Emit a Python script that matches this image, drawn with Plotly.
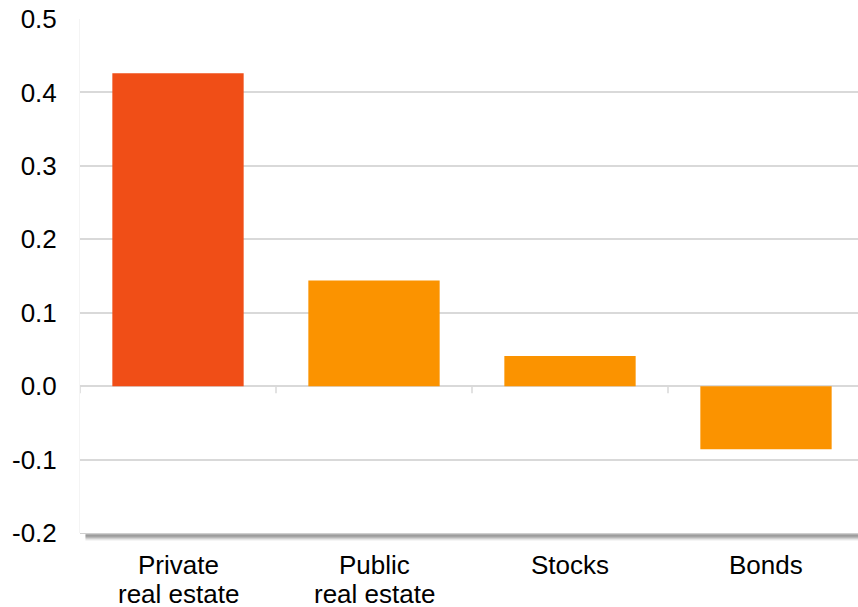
import plotly.graph_objects as go

categories = ["Private<br>real estate", "Public<br>real estate", "Stocks", "Bonds"]
values = [0.426, 0.144, 0.041, -0.086]
colors = ["#F04E17", "#FB9300", "#FB9300", "#FB9300"]
y_ticks = [-0.2, -0.1, 0.0, 0.1, 0.2, 0.3, 0.4, 0.5]
y_labels = ["-0.2", "-0.1", "0.0", "0.1", "0.2", "0.3", "0.4", "0.5"]

fig = go.Figure()
fig.add_trace(go.Bar(
    x=list(range(len(categories))), y=values, marker_color=colors,
    marker_line_width=0, width=0.67, showlegend=False, hoverinfo="skip"))

n = len(categories)
shapes = []
# zero line with category-boundary ticks
shapes.append(dict(type="line", xref="paper", x0=0, x1=1, yref="y", y0=0, y1=0,
                   line=dict(color="#d9d9d9", width=1.5), layer="below"))
for i in range(n):
    shapes.append(dict(type="line", xref="x", x0=i - 0.5, x1=i - 0.5, yref="y",
                       ysizemode="pixel", yanchor=0, y0=0, y1=-7,
                       line=dict(color="#d9d9d9", width=1.5)))
# bottom axis with shadow
shadow = ["#cfcfcf", "#b0b0b0", "#9c9c9c", "#a4a4a4", "#b8b8b8", "#d0d0d0", "#e6e6e6", "#f5f5f5"]
for k, c in enumerate(shadow):
    shapes.append(dict(type="line", xref="paper", x0=0.007 if k > 0 else 0, x1=1,
                       yref="paper", ysizemode="pixel", yanchor=0,
                       y0=-k - 0.5, y1=-k - 0.5, line=dict(color=c, width=1)))

# category labels (tight line spacing like the reference)
annotations = []
for i, cat in enumerate(categories):
    for j, line in enumerate(cat.split("<br>")):
        annotations.append(dict(x=i, xref="x", y=0, yref="paper", text=line,
                                showarrow=False, xanchor="center", yanchor="middle",
                                yshift=-32 - 29 * j,
                                font=dict(family="Liberation Sans, Arial, sans-serif",
                                          size=26, color="#000000")))

fig.update_layout(
    width=858, height=607,
    margin=dict(l=80, r=0, t=19, b=74),
    paper_bgcolor="white", plot_bgcolor="white",
    font=dict(family="Liberation Sans, Arial, sans-serif", size=26, color="#000000"),
    bargap=0.33,
    shapes=shapes,
    annotations=annotations,
    xaxis=dict(tickvals=list(range(n)), showticklabels=False,
               range=[-0.5, n - 0.5 - 6 / 196], showgrid=False, zeroline=False,
               showline=False, ticks="", automargin=False, fixedrange=True),
    yaxis=dict(range=[-0.2, 0.5], tickvals=y_ticks, ticktext=y_labels,
               showgrid=True, gridcolor="#d9d9d9", gridwidth=1.5, zeroline=False,
               showline=True, linecolor="#f4f4f4", linewidth=1,
               ticks="outside", ticklen=0, ticklabelstandoff=17,
               automargin=False, fixedrange=True),
)

fig.write_html("out.html")
